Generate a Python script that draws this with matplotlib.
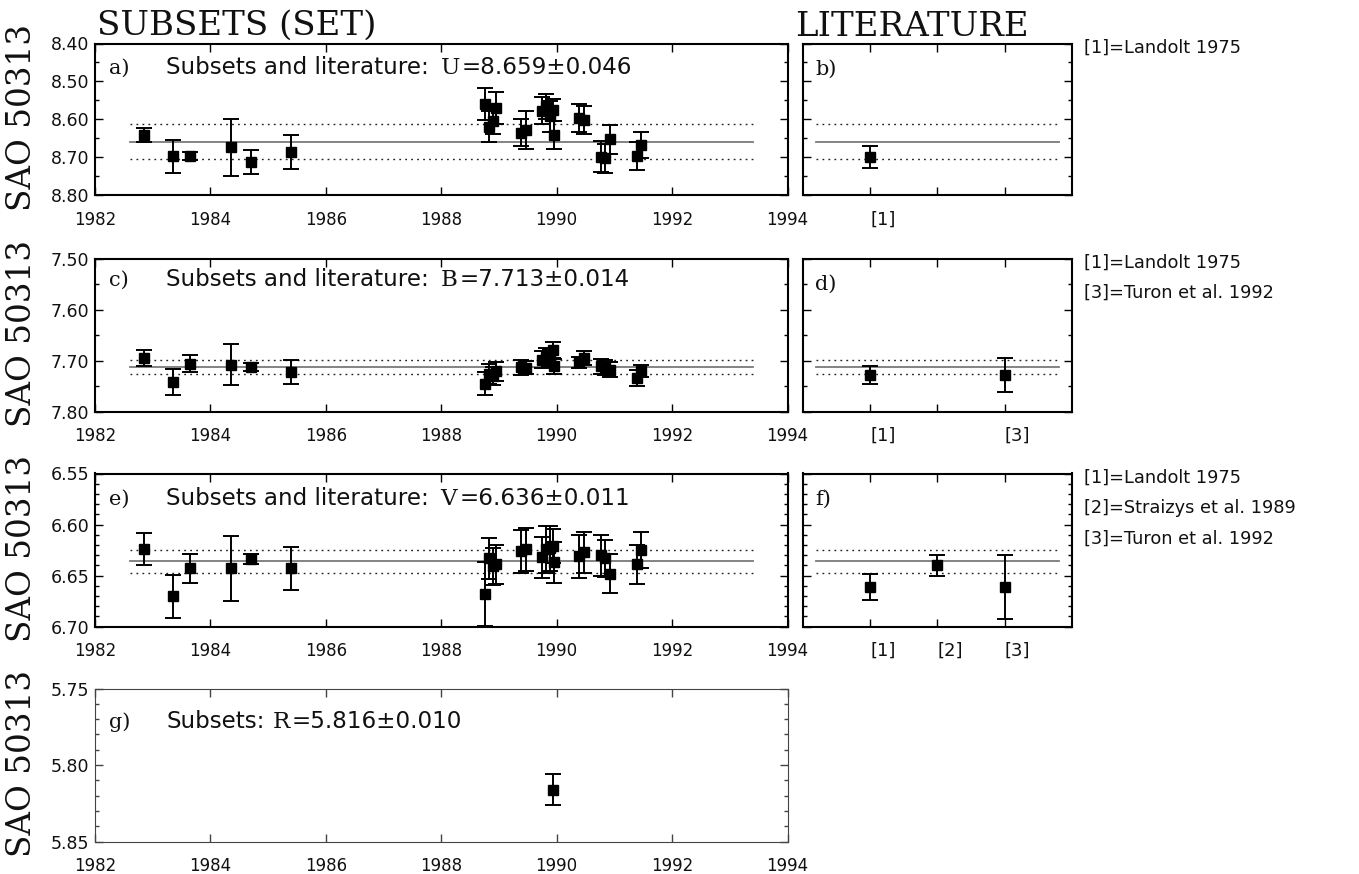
import matplotlib
matplotlib.use("Agg")
import matplotlib.pyplot as plt
from matplotlib.ticker import MultipleLocator, FixedLocator, FormatStrFormatter

# ---------------- data ----------------
epochs = [1982.85, 1983.36, 1983.65, 1984.35, 1984.71, 1985.40,
          1988.75, 1988.82, 1988.89, 1988.95, 1989.38, 1989.46,
          1989.75, 1989.81, 1989.88, 1989.94, 1989.96, 1990.39,
          1990.47, 1990.77, 1990.84, 1990.93, 1991.40, 1991.47]

U_mag = [8.641, 8.697, 8.696, 8.674, 8.713, 8.687,
         8.559, 8.619, 8.604, 8.570, 8.635, 8.628,
         8.577, 8.566, 8.592, 8.575, 8.641, 8.597,
         8.601, 8.698, 8.703, 8.652, 8.697, 8.668]
U_err = [0.018, 0.043, 0.010, 0.074, 0.032, 0.045,
         0.043, 0.040, 0.035, 0.042, 0.035, 0.049,
         0.035, 0.032, 0.040, 0.030, 0.037, 0.037,
         0.037, 0.040, 0.038, 0.038, 0.037, 0.035]

B_mag = [7.695, 7.742, 7.706, 7.708, 7.712, 7.722,
         7.745, 7.726, 7.730, 7.721, 7.713, 7.714,
         7.698, 7.692, 7.694, 7.679, 7.711, 7.703,
         7.695, 7.711, 7.713, 7.718, 7.734, 7.721]
B_err = [0.015, 0.025, 0.017, 0.040, 0.008, 0.023,
         0.022, 0.020, 0.018, 0.018, 0.015, 0.013,
         0.017, 0.017, 0.016, 0.016, 0.015, 0.011,
         0.013, 0.015, 0.015, 0.015, 0.015, 0.012]

V_mag = [6.624, 6.670, 6.643, 6.643, 6.634, 6.643,
         6.668, 6.633, 6.641, 6.639, 6.626, 6.624,
         6.632, 6.624, 6.623, 6.621, 6.637, 6.631,
         6.627, 6.630, 6.633, 6.648, 6.639, 6.625]
V_err = [0.016, 0.021, 0.014, 0.032, 0.005, 0.021,
         0.031, 0.020, 0.018, 0.019, 0.021, 0.021,
         0.020, 0.023, 0.022, 0.017, 0.020, 0.021,
         0.020, 0.020, 0.018, 0.019, 0.019, 0.018]

R_epochs = [1989.93]
R_mag = [5.816]
R_err = [0.010]

U_mean, U_sig = 8.659, 0.046
B_mean, B_sig = 7.713, 0.014
V_mean, V_sig = 6.636, 0.011
R_mean, R_sig = 5.816, 0.010

lit_U_ref = [1]
lit_U_mag = [8.700]
lit_U_err = [0.029]
lit_B_ref = [1, 3]
lit_B_mag = [7.728, 7.728]
lit_B_err = [0.018, 0.034]
lit_V_ref = [1, 2, 3]
lit_V_mag = [6.661, 6.640, 6.661]
lit_V_err = [0.0125, 0.010, 0.031]

year_ticks = [1982, 1984, 1986, 1988, 1990, 1992, 1994]
lit_tick_labels_U = ["[1]", "", ""]
lit_tick_labels_B = ["[1]", "", "[3]"]
lit_tick_labels_V = ["[1]", "[2]", "[3]"]
notes_U = ["[1]=Landolt 1975"]
notes_B = ["[1]=Landolt 1975", "[3]=Turon et al. 1992"]
notes_V = ["[1]=Landolt 1975", "[2]=Straizys et al. 1989", "[3]=Turon et al. 1992"]

# ---------------- layout ----------------
W, H = 1359, 874
fig = plt.figure(figsize=(W / 100, H / 100), dpi=100)
renderer = fig.canvas.get_renderer()

SANS = "DejaVu Sans"
SERIF = "DejaVu Serif"
TXT = "#111111"


def box(l, t, r, b):
    return [l / W, 1 - b / H, (r - l) / W, (b - t) / H]


rows = [(43.5, 195.3), (258.5, 411.7), (473.5, 626.7), (688.5, 841.7)]
LX0, LX1 = 95, 787.5
RX0, RX1 = 802.7, 1072


def style(ax, lw=1.5, col="black"):
    for s in ax.spines.values():
        s.set_linewidth(lw)
        s.set_color(col)
    ax.tick_params(which="both", direction="in", top=True, right=True,
                   color=col, width=1.0, labelcolor=TXT)
    ax.tick_params(which="major", length=5.5)
    ax.tick_params(which="minor", length=3)
    ax.tick_params(axis="x", which="major", pad=11, labelsize=12)
    ax.tick_params(axis="y", which="major", pad=4, labelsize=12.5)


def mean_lines(ax, x0, x1, m, s):
    ax.plot([x0, x1], [m, m], color="#7a7a7a", lw=1.3, zorder=1)
    for v in (m - s, m + s):
        ax.plot([x0, x1], [v, v], color="#222222", lw=1.0,
                linestyle=(0, (1.3, 3.0)), zorder=1)


def points(ax, x, y, e):
    ax.errorbar(x, y, yerr=e, fmt="s", ms=6.5, mfc="k", mec="k",
                ecolor="k", elinewidth=1.4, capsize=5.5, capthick=1.4, zorder=3)


def runs(ax, x, y, parts):
    """parts: list of (text, family, size, gap_px_before)."""
    xd, yd = ax.transAxes.transform((x, y))
    for txt, fam, size, gap in parts:
        xd += gap
        xa, ya = ax.transAxes.inverted().transform((xd, yd))
        t = ax.text(xa, ya, txt, transform=ax.transAxes, family=fam,
                    fontsize=size, va="baseline", ha="left", color=TXT)
        bb = t.get_window_extent(renderer)
        xd = bb.x1


def left_panel(row, ylim, major, minor, letter, label):
    t, b = rows[row]
    ax = fig.add_axes(box(LX0, t, LX1, b))
    style(ax, lw=1.5 if row < 3 else 0.8, col="black" if row < 3 else "#444444")
    ax.set_xlim(1982, 1994)
    ax.set_ylim(*ylim)
    ax.xaxis.set_major_locator(FixedLocator(year_ticks))
    ax.set_xticklabels([str(y) for y in year_ticks], family=SANS)
    ax.yaxis.set_major_locator(MultipleLocator(major))
    ax.yaxis.set_minor_locator(MultipleLocator(minor))
    ax.yaxis.set_major_formatter(FormatStrFormatter("%.2f"))
    for lab in ax.get_yticklabels():
        lab.set_family(SANS)
    base = 1 - label / (b - t)
    ax.text((109 - LX0) / (LX1 - LX0), base, letter, transform=ax.transAxes,
            family=SERIF, fontsize=15, va="baseline", ha="left", color=TXT)
    return ax, base


def right_panel(row, ylim, major, minor, letter, ticklabels, notes):
    t, b = rows[row]
    ax = fig.add_axes(box(RX0, t, RX1, b))
    style(ax)
    ax.set_xlim(0, 4)
    ax.set_ylim(*ylim)
    ax.xaxis.set_major_locator(FixedLocator([1, 2, 3]))
    ax.set_xticklabels(ticklabels, family=SANS, fontsize=13, ha="left")
    ax.yaxis.set_major_locator(MultipleLocator(major))
    ax.yaxis.set_minor_locator(MultipleLocator(minor))
    ax.set_yticklabels([])
    ax.text((815 - RX0) / (RX1 - RX0), 1 - 31 / (b - t), letter,
            transform=ax.transAxes, family=SERIF, fontsize=15,
            va="baseline", ha="left", color=TXT)
    for i, n in enumerate(notes):
        fig.text(1084 / W, 1 - (t + 9 + 30.5 * i) / H, n, family=SANS,
                 fontsize=12.8, va="baseline", ha="left", color=TXT)
    return ax


X0, X1 = 1982.6, 1993.4
L0, L1 = 0.2, 3.8
TS = 16.6
x_txt = (166 - LX0) / (LX1 - LX0)

# ---- U ----
ax, base = left_panel(0, (8.80, 8.40), 0.10, 0.05, "a)", 30.5)
mean_lines(ax, X0, X1, U_mean, U_sig)
points(ax, epochs, U_mag, U_err)
runs(ax, x_txt, base,
     [("Subsets and literature:", SANS, TS, 0), ("U", SERIF, TS, 12),
      (f"={U_mean:.3f}\u00b1{U_sig:.3f}", SANS, TS, 2)])
axr = right_panel(0, (8.80, 8.40), 0.10, 0.05, "b)", lit_tick_labels_U, notes_U)
mean_lines(axr, L0, L1, U_mean, U_sig)
points(axr, lit_U_ref, lit_U_mag, lit_U_err)

# ---- B ----
ax, base = left_panel(1, (7.80, 7.50), 0.10, 0.05, "c)", 27)
mean_lines(ax, X0, X1, B_mean, B_sig)
points(ax, epochs, B_mag, B_err)
runs(ax, x_txt, base,
     [("Subsets and literature:", SANS, TS, 0), ("B", SERIF, TS, 12),
      (f"={B_mean:.3f}\u00b1{B_sig:.3f}", SANS, TS, 2)])
axr = right_panel(1, (7.80, 7.50), 0.10, 0.05, "d)", lit_tick_labels_B, notes_B)
mean_lines(axr, L0, L1, B_mean, B_sig)
points(axr, lit_B_ref, lit_B_mag, lit_B_err)

# ---- V ----
ax, base = left_panel(2, (6.70, 6.55), 0.05, 0.01, "e)", 31.5)
mean_lines(ax, X0, X1, V_mean, V_sig)
points(ax, epochs, V_mag, V_err)
runs(ax, x_txt, base,
     [("Subsets and literature:", SANS, TS, 0), ("V", SERIF, TS, 12),
      (f"={V_mean:.3f}\u00b1{V_sig:.3f}", SANS, TS, 2)])
axr = right_panel(2, (6.70, 6.55), 0.05, 0.01, "f)", lit_tick_labels_V, notes_V)
mean_lines(axr, L0, L1, V_mean, V_sig)
points(axr, lit_V_ref, lit_V_mag, lit_V_err)

# ---- R ----
ax, base = left_panel(3, (5.85, 5.75), 0.05, 0.01, "g)", 40)
points(ax, R_epochs, R_mag, R_err)
runs(ax, x_txt, base,
     [("Subsets:", SANS, TS, 0), ("R", SERIF, TS, 8),
      (f"={R_mean:.3f}\u00b1{R_sig:.3f}", SANS, TS, 2)])

# ---- titles and y labels ----
fig.text(97 / W, 1 - 35 / H, "SUBSETS (SET)", family=SERIF, fontsize=24.5,
         va="baseline", ha="left", color=TXT)
fig.text(795 / W, 1 - 36 / H, "LITERATURE", family=SERIF, fontsize=24.5,
         va="baseline", ha="left", color=TXT)
for t, b in rows:
    fig.text(22 / W, 1 - ((t + b) / 2 - 2) / H, "SAO 50313", family=SERIF,
             fontsize=23.5, rotation=90, va="center", ha="center", color=TXT)

fig.savefig("out.png", dpi=100)
